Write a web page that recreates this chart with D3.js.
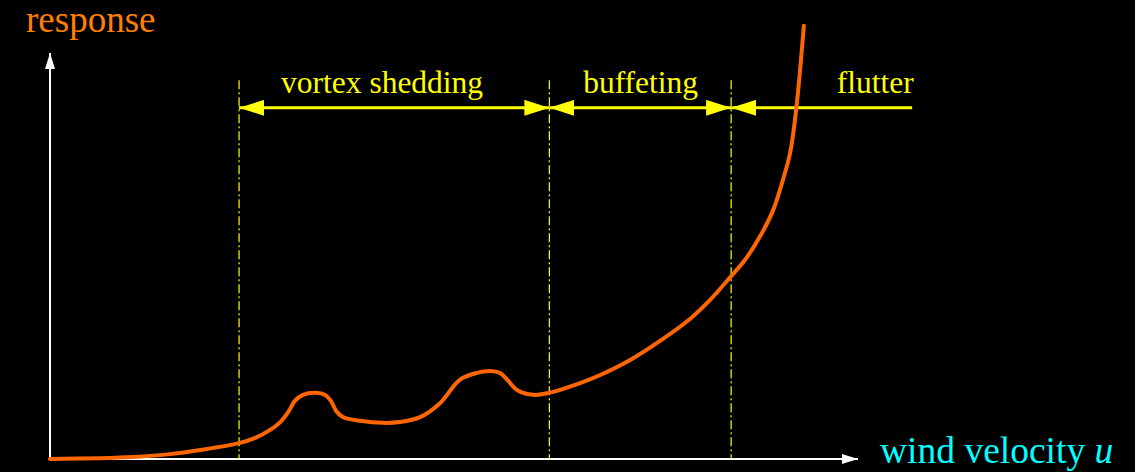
<!DOCTYPE html>
<html>
<head>
<meta charset="utf-8">
<script src="https://cdn.jsdelivr.net/npm/d3@7"></script>
<style>
  html, body { margin: 0; padding: 0; background: #000; }
  svg { display: block; }
  text { font-family: "Liberation Serif", "Times New Roman", serif; }
</style>
</head>
<body>
<svg id="chart" width="1135" height="472"></svg>
<script>
// Wind velocity (arbitrary units) and structural response along the curve
const windVelocity = [0, 0.62, 1.03, 1.49, 1.86, 2.34, 2.54, 2.72, 2.85, 2.95, 3.03, 3.13, 3.30, 3.40,
  3.47, 3.55, 3.63, 3.84, 4.12, 4.33, 4.58, 4.83, 5.07, 5.28, 5.45, 5.57, 5.66, 5.78, 5.98, 6.18,
  6.56, 6.81, 7.18, 7.55, 7.92, 8.17, 8.42, 8.60, 8.79, 8.95, 9.07, 9.16, 9.23, 9.28, 9.33];
const response = [0, 0.02, 0.05, 0.12, 0.22, 0.39, 0.52, 0.71, 0.91, 1.16, 1.43, 1.58, 1.63, 1.58,
  1.45, 1.16, 1.03, 0.94, 0.89, 0.91, 1.03, 1.38, 1.95, 2.12, 2.17, 2.12, 1.95, 1.70, 1.58, 1.63,
  1.87, 2.07, 2.44, 2.91, 3.45, 3.92, 4.48, 4.90, 5.49, 6.13, 6.87, 7.54, 8.52, 9.51, 10.67];

// Regimes of aeroelastic behaviour
const regimeNames = ["vortex shedding", "buffeting", "flutter"];
const regimeStart = [2.34, 6.18, 8.43];
const regimeEnd = [6.18, 8.43, 10.67];
const regimeLabelAt = [4.11, 7.31, 10.69];
const regimeLabelAnchor = ["middle", "middle", "end"];
const regimeArrowLevel = 8.65;   // response level of the dimension arrows
const boundaryTop = 9.33;        // top of the dash-dot boundary lines

const axisLabels = { x: "wind velocity ", xVar: "u", y: "response" };

const svg = d3.select("#chart");
const x = d3.scaleLinear().domain([0, 10]).range([50, 858]);
const y = d3.scaleLinear().domain([0, 10]).range([459, 53]);

const defs = svg.append("defs");
function marker(id, color, w, h) {
  defs.append("marker")
    .attr("id", id)
    .attr("viewBox", `0 0 ${w} ${h}`)
    .attr("refX", w).attr("refY", h / 2)
    .attr("markerWidth", w).attr("markerHeight", h)
    .attr("markerUnits", "userSpaceOnUse")
    .attr("orient", "auto-start-reverse")
    .append("path")
    .attr("d", `M0,0L${w},${h / 2}L0,${h}Z`)
    .attr("fill", color);
}
marker("axisHead", "#fff", 16, 10);
marker("dimHead", "#ffff00", 25, 16);

// Axes
svg.append("line")
  .attr("x1", x(0)).attr("y1", y(0)).attr("x2", x(0)).attr("y2", y(10))
  .attr("stroke", "#fff").attr("stroke-width", 2)
  .attr("marker-end", "url(#axisHead)");
svg.append("line")
  .attr("x1", x(0)).attr("y1", y(0)).attr("x2", x(10)).attr("y2", y(0))
  .attr("stroke", "#fff").attr("stroke-width", 2)
  .attr("marker-end", "url(#axisHead)");

// Regime boundaries (dash-dot)
svg.selectAll("line.boundary").data(regimeStart).join("line")
  .attr("class", "boundary")
  .attr("x1", d => x(d)).attr("x2", d => x(d))
  .attr("y1", y(boundaryTop)).attr("y2", y(0))
  .attr("stroke", "#ffff00").attr("stroke-width", 1.2)
  .attr("stroke-dasharray", "9,3,2,3");

// Dimension arrows for each regime
const regimes = regimeNames.map((name, i) => ({
  name, start: regimeStart[i], end: regimeEnd[i],
  labelAt: regimeLabelAt[i], anchor: regimeLabelAnchor[i], open: i === regimeNames.length - 1
}));
svg.selectAll("line.dim").data(regimes).join("line")
  .attr("class", "dim")
  .attr("x1", d => x(d.start)).attr("x2", d => x(d.end))
  .attr("y1", y(regimeArrowLevel)).attr("y2", y(regimeArrowLevel))
  .attr("stroke", "#ffff00").attr("stroke-width", 3)
  .attr("marker-start", "url(#dimHead)")
  .attr("marker-end", d => d.open ? null : "url(#dimHead)");
svg.selectAll("text.regime").data(regimes).join("text")
  .attr("class", "regime")
  .attr("x", d => x(d.labelAt))
  .attr("y", y(regimeArrowLevel) - 15)
  .attr("text-anchor", d => d.anchor)
  .attr("fill", "#ffff00")
  .attr("font-size", 31.5)
  .text(d => d.name);

// Response curve
const points = windVelocity.map((u, i) => [u, response[i]]);
svg.append("path")
  .datum(points)
  .attr("fill", "none")
  .attr("stroke", "#ff6600")
  .attr("stroke-width", 4)
  .attr("stroke-linecap", "round")
  .attr("d", d3.line().x(d => x(d[0])).y(d => y(d[1])).curve(d3.curveCatmullRom.alpha(0.5)));

// Axis titles
svg.append("text")
  .attr("x", 26).attr("y", 32)
  .attr("fill", "#ff8000")
  .attr("font-size", 37)
  .text(axisLabels.y);
const xt = svg.append("text")
  .attr("x", 880).attr("y", 463)
  .attr("fill", "#00ffff")
  .attr("font-size", 37.5);
xt.append("tspan").text(axisLabels.x);
xt.append("tspan").attr("font-style", "italic").text(axisLabels.xVar);
</script>
</body>
</html>
